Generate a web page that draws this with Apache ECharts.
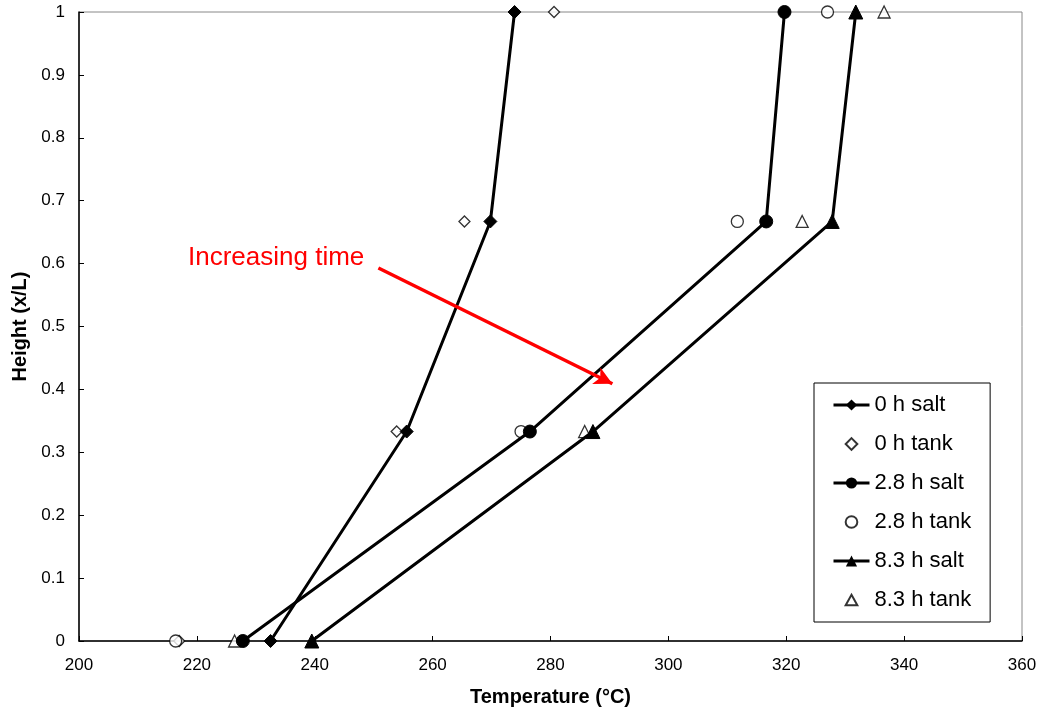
<!DOCTYPE html>
<html>
<head>
<meta charset="utf-8">
<script src="https://cdn.jsdelivr.net/npm/echarts@6/dist/echarts.min.js"></script>
<style>
  html, body { margin: 0; padding: 0; background: #fff; }
  #chart { width: 1042px; height: 712px; }
</style>
</head>
<body>
<div id="chart"></div>
<script>
// heights (x/L) shared by every series
var heights = [0, 0.333, 0.667, 1]

// temperatures (°C)
var salt0 = [232.5, 255.6, 269.8, 273.9]
var tank0 = [217.0, 253.9, 265.4, 280.6]
var salt28 = [227.8, 276.5, 316.6, 319.7]
var tank28 = [216.4, 275.0, 311.7, 327.0]
var salt83 = [239.5, 287.2, 327.8, 331.8]
var tank83 = [226.4, 285.8, 322.7, 336.6]

// arrow annotation ends, in data units
var arrowFrom = [250.8, 0.593]
var arrowTo = [290.5, 0.409]

var FONT = 'Liberation Sans, Arial, sans-serif'

// legend icons for the open markers: the empty M..L corners pad the box so
// the shape keeps its aspect and stays a bit smaller than the line icons
var ICON_DIAMOND = 'path://M-1,-1L-1,-1M5,0L10,5L5,10L0,5ZM11,11L11,11'
var ICON_CIRCLE = 'path://M-1,-1L-1,-1M0,5A5,5,0,1,1,10,5A5,5,0,1,1,0,5ZM11,11L11,11'
var ICON_TRIANGLE = 'path://M-1,-1L-1,-1M5,0.5L10,9.5L0,9.5ZM11,11L11,11'

function pairs(xs) {
  return xs.map(function (x, i) { return [x, heights[i]] })
}

function saltSeries(name, xs, symbol, size) {
  return {
    name: name,
    type: 'line',
    data: pairs(xs),
    symbol: symbol,
    symbolSize: size,
    lineStyle: { color: '#000', width: 3 },
    itemStyle: { color: '#000', borderColor: '#000' },
    z: 3
  }
}

function tankSeries(name, xs, symbol, size) {
  return {
    name: name,
    type: 'scatter',
    data: pairs(xs),
    symbol: symbol,
    symbolSize: size,
    itemStyle: { color: '#fff', borderColor: '#000', borderWidth: 1.3 },
    z: 2
  }
}

var myChart = echarts.init(document.getElementById('chart'))
var option = {
  animation: false,
  textStyle: { fontFamily: FONT },
  grid: { left: 79, right: 20, top: 12, bottom: 71, show: true, borderColor: '#888', borderWidth: 1 },
  xAxis: {
    type: 'value',
    min: 200, max: 360, interval: 20,
    name: 'Temperature (°C)',
    nameLocation: 'middle',
    nameGap: 46,
    nameTextStyle: { fontSize: 20, fontWeight: 'bold', color: '#000', fontFamily: FONT },
    axisLine: { show: true, lineStyle: { color: '#000', width: 1.5 } },
    axisTick: { show: true, inside: true, length: 5, lineStyle: { color: '#000' } },
    axisLabel: { fontSize: 17, color: '#000', margin: 16, fontFamily: FONT },
    splitLine: { show: false }
  },
  yAxis: {
    type: 'value',
    min: 0, max: 1, interval: 0.1,
    name: 'Height (x/L)',
    nameLocation: 'middle',
    nameGap: 49,
    nameTextStyle: { fontSize: 20, fontWeight: 'bold', color: '#000', fontFamily: FONT },
    axisLine: { show: true, lineStyle: { color: '#000', width: 1.5 } },
    axisTick: { show: true, inside: true, length: 5, lineStyle: { color: '#000' } },
    axisLabel: { fontSize: 17, color: '#000', margin: 14, fontFamily: FONT },
    splitLine: { show: false }
  },
  legend: {
    orient: 'vertical',
    left: 814,
    top: 383,
    padding: [11, 19, 11, 18],
    backgroundColor: '#fff',
    borderColor: '#000',
    borderWidth: 1,
    itemWidth: 36,
    itemHeight: 14,
    itemGap: 17,
    symbolKeepAspect: true,
    lineStyle: { width: 3 },
    textStyle: { fontSize: 22, color: '#000', fontFamily: FONT },
    data: [
      '0 h salt',
      { name: '0 h tank', icon: ICON_DIAMOND },
      '2.8 h salt',
      { name: '2.8 h tank', icon: ICON_CIRCLE },
      '8.3 h salt',
      { name: '8.3 h tank', icon: ICON_TRIANGLE }
    ]
  },
  graphic: [
    {
      type: 'text',
      left: 188,
      top: 245,
      style: { text: 'Increasing time', fill: '#f00', fontSize: 26, fontFamily: FONT }
    }
  ],
  series: [
    saltSeries('0 h salt', salt0, 'diamond', 13),
    tankSeries('0 h tank', tank0, 'diamond', 11),
    saltSeries('2.8 h salt', salt28, 'circle', 13),
    tankSeries('2.8 h tank', tank28, 'circle', 12),
    saltSeries('8.3 h salt', salt83, 'triangle', 14),
    tankSeries('8.3 h tank', tank83, 'triangle', 12),
    {
      name: 'arrow',
      type: 'line',
      data: [],
      markLine: {
        silent: true,
        symbol: ['none', 'arrow'],
        symbolSize: [14, 18],
        label: { show: false },
        lineStyle: { color: '#f00', width: 3.5, type: 'solid' },
        data: [[{ coord: arrowFrom }, { coord: arrowTo }]]
      }
    }
  ]
}
myChart.setOption(option)
</script>
</body>
</html>
